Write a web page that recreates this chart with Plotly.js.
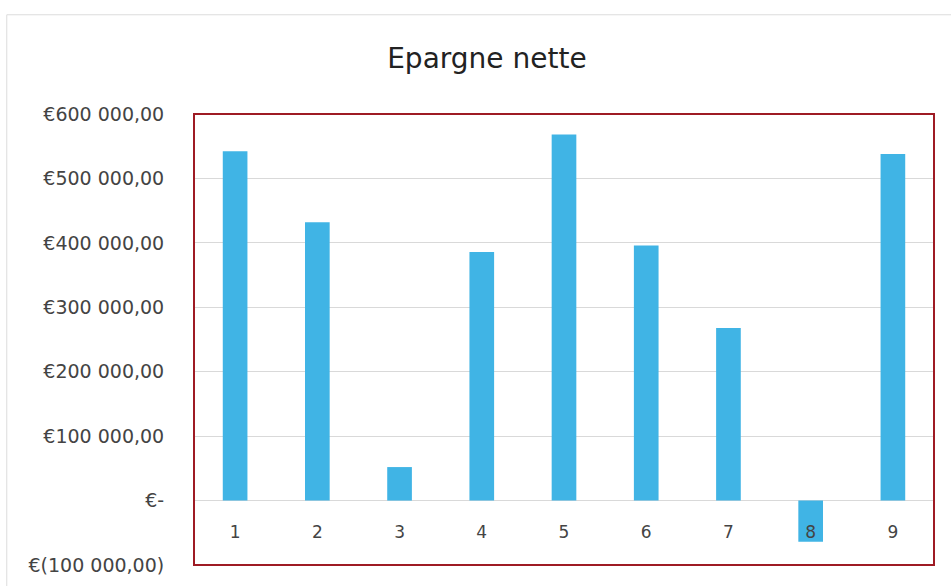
<!DOCTYPE html>
<html>
<head>
<meta charset="utf-8">
<script src="https://cdn.plot.ly/plotly-3.0.1.min.js"></script>
<style>html,body{margin:0;padding:0;background:#fff;}#chart{width:951px;height:586px;}</style>
</head>
<body>
<div id="chart"></div>
<script>
const categories = ['1', '2', '3', '4', '5', '6', '7', '8', '9'];
const values = [542000, 432000, 52000, 386000, 568000, 396000, 268000, -64000, 538000];
const tickValues = [-100000, 0, 100000, 200000, 300000, 400000, 500000, 600000];
const tickLabels = ['€(100 000,00)', '€-', '€100 000,00', '€200 000,00', '€300 000,00', '€400 000,00', '€500 000,00', '€600 000,00'];
const chartTitle = 'Epargne nette';

const trace = {
  type: 'bar',
  x: categories,
  y: values,
  marker: {color: '#40b4e5'},
  hoverinfo: 'x+y'
};

const layout = {
  width: 951,
  height: 586,
  margin: {l: 194, r: 17, t: 114, b: 21},
  paper_bgcolor: '#ffffff',
  plot_bgcolor: '#ffffff',
  showlegend: false,
  bargap: 0.7,
  title: {
    text: chartTitle,
    font: {family: 'DejaVu Sans', size: 28, color: '#222222'},
    x: 0.512, xanchor: 'center', xref: 'container',
    y: 0.901, yanchor: 'middle', yref: 'container'
  },
  xaxis: {
    type: 'category',
    anchor: 'free',
    position: 0.1,
    showgrid: false,
    zeroline: false,
    showline: false,
    ticks: '',
    tickfont: {family: 'DejaVu Sans', size: 17, color: '#444444'}
  },
  yaxis: {
    range: [-100000, 600000],
    tickmode: 'array',
    tickvals: tickValues,
    ticktext: tickLabels,
    showgrid: true,
    gridcolor: '#d9d9d9',
    gridwidth: 1,
    zeroline: true,
    zerolinecolor: '#d9d9d9',
    zerolinewidth: 1,
    showline: false,
    ticks: 'outside',
    ticklen: 25,
    tickcolor: 'rgba(0,0,0,0)',
    tickfont: {family: 'DejaVu Sans', size: 19, color: '#444444'}
  },
  shapes: [
    {type: 'rect', xref: 'paper', yref: 'paper', x0: 0, x1: 1, y0: 0, y1: 1,
     line: {color: '#9e1b24', width: 2}, fillcolor: 'rgba(0,0,0,0)', layer: 'above'},
    {type: 'rect', xref: 'paper', yref: 'paper', x0: -0.253, x1: 1.05, y0: -0.1, y1: 1.22,
     line: {color: '#dcdcdc', width: 1}, fillcolor: 'rgba(0,0,0,0)', layer: 'below'}
  ]
};

Plotly.newPlot('chart', [trace], layout, {displayModeBar: false, staticPlot: true});
</script>
</body>
</html>
